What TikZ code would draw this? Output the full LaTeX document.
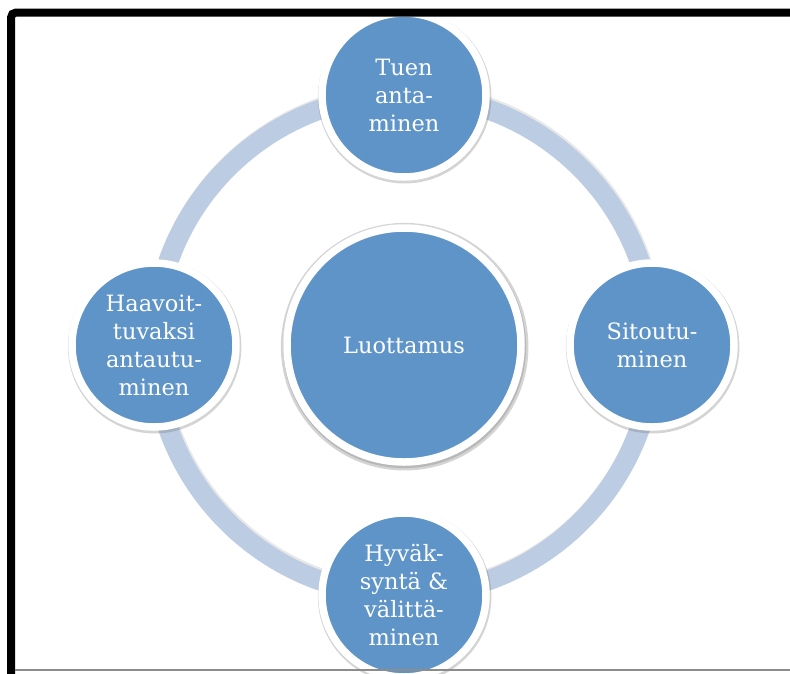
\documentclass[tikz,border=0pt]{standalone}
\usepackage{fontspec}
\setmainfont{DejaVu Serif}
\usetikzlibrary{shadows}
\definecolor{discblue}{RGB}{95,148,200}
\definecolor{ringblue}{RGB}{188,204,227}
\tikzset{
  disc/.style={circle, fill=discblue, draw=white, line width=7.5pt, inner sep=0pt,
    minimum size=164pt, text=white, align=center,
    font=\fontsize{22.5pt}{28pt}\selectfont,
    drop shadow={opacity=0.3, fill=black!55, shadow scale=1.058, shadow xshift=0.6pt, shadow yshift=-1.6pt}},
  bigdisc/.style={disc, minimum size=234pt,
    drop shadow={opacity=0.28, fill=black!55, shadow scale=1.038, shadow xshift=0.6pt, shadow yshift=-1.6pt}},
  ring/.style={draw=ringblue, line width=20pt},
  ringshadow/.style={draw=black!25, line width=20pt, opacity=0.35},
  framebar/.style={draw=black, line width=8pt, rounded corners=5pt},
  baseline/.style={draw=black!45, line width=1.8pt}
}
\begin{document}
\begin{tikzpicture}[x=1pt,y=-1pt]
\useasboundingbox (0,0) rectangle (790,673);
\clip (0,0) rectangle (790,673);
\fill[white] (0,0) rectangle (790,673);
\coordinate (ctr) at (404,345);
\draw[ringshadow] ([xshift=1pt,yshift=2pt]ctr) circle[radius=250];
\draw[ring] (ctr) circle[radius=250];
\node[bigdisc] (trust) at (ctr) {Luottamus};
\node[disc] (support) at (404,95) {Tuen\\anta-\\minen};
\node[disc] (commit) at (652,345) {Sitoutu-\\minen};
\node[disc] (accept) at (404,595) {Hyväk-\\syntä \&\\välittä-\\minen};
\node[disc] (vulner) at (154,345) {Haavoit-\\tuvaksi\\antautu-\\minen};
\coordinate (fbl) at (11,680);
\coordinate (ftl) at (11,12.5);
\coordinate (ftr) at (795,12.5);
\draw[framebar] (fbl) -- (ftl) -- (ftr);
\coordinate (bl) at (15,670);
\coordinate (br) at (790,670);
\draw[baseline] (bl) -- (br);
\end{tikzpicture}
\end{document}
